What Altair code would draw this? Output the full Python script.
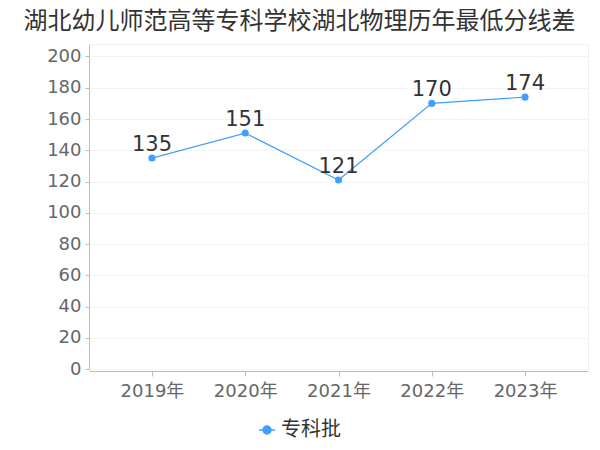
import altair as alt
import pandas as pd

years = ["2019年", "2020年", "2021年", "2022年", "2023年"]
scores = [135, 151, 121, 170, 174]
series = ["专科批"] * 5
y_ticks = [0, 20, 40, 60, 80, 100, 120, 140, 160, 180, 200]

df = pd.DataFrame({"year": years, "score": scores, "batch": series})

FONT = "DejaVu Sans, Noto Sans CJK SC"
BLUE = "#409EFF"

x = alt.X("year:N", sort=years, title=None,
          scale=alt.Scale(type="point", padding=0.675),
          axis=alt.Axis(labelAngle=0, labelFontSize=18, labelColor="#666666",
                        labelFont=FONT, tickColor="#bbbbbb", tickSize=5,
                        domainColor="#bbbbbb", gridColor="#f3f3f3",
                        labelPadding=6, offset=2))
y = alt.Y("score:Q", title=None,
          scale=alt.Scale(domain=[0, 208], nice=False),
          axis=alt.Axis(values=y_ticks, labelFontSize=18, labelColor="#666666",
                        labelFont=FONT, tickColor="#bbbbbb", tickSize=4,
                        domainColor="#bbbbbb", gridColor="#f3f3f3",
                        labelPadding=4))

color = alt.Color("batch:N", title=None,
                  scale=alt.Scale(range=[BLUE]),
                  legend=alt.Legend(orient="none", legendX=168, legendY=376,
                                    symbolType="M-1,0L1,0M-0.5,0A0.5,0.5 0 1,0 0.5,0A0.5,0.5 0 1,0 -0.5,0",
                                    symbolSize=256, symbolStrokeWidth=1.5,
                                    symbolFillColor=BLUE, symbolStrokeColor=BLUE,
                                    labelFontSize=20, labelColor="#333333",
                                    labelFont=FONT, labelOffset=4))

base = alt.Chart(df)
line = base.mark_line(strokeWidth=1.2).encode(x=x, y=y, color=color)
pts = base.mark_point(filled=True, size=50, opacity=1).encode(x=x, y=y, color=alt.Color("batch:N", scale=alt.Scale(range=[BLUE]), legend=None))
labels = base.mark_text(dy=-13, fontSize=21, color="#333333", font=FONT).encode(
    x=x, y=y, text="score:Q")

chart = alt.layer(line, pts, labels).properties(
    width=499, height=325,
    title=alt.TitleParams("湖北幼儿师范高等专科学校湖北物理历年最低分线差",
                          fontSize=24, font=FONT, color="#333333",
                          fontWeight="normal", anchor="middle", offset=10, dx=-39),
    autosize=alt.AutoSizeParams(type="none"),
    padding={"left": 81, "top": 36, "right": 4, "bottom": 76},
).configure_view(stroke="#f0f0f0")

chart.save("out.html", embed_options={"renderer": "svg", "actions": False})
